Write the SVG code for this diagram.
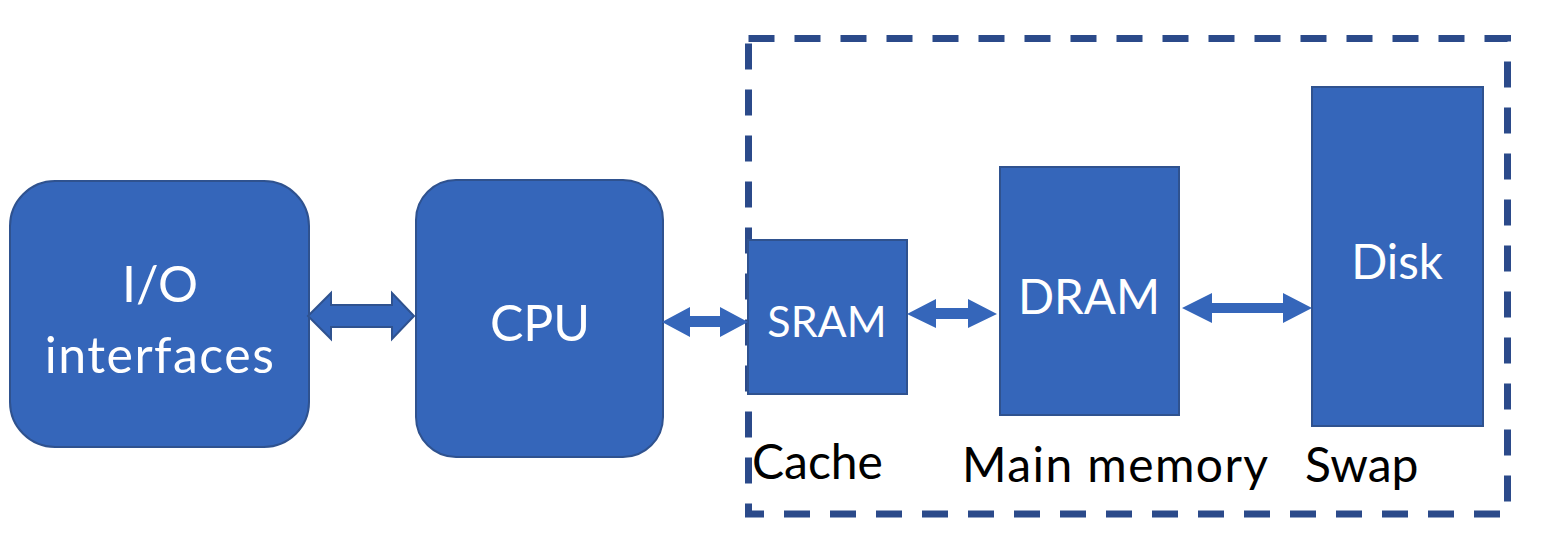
<svg xmlns="http://www.w3.org/2000/svg" width="1550" height="542" viewBox="0 0 1550 542">
<style>
.box{fill:#3566BA;stroke:#2F528F;stroke-width:2}
.arr{fill:#3566BA}
.arr2{fill:#3566BA;stroke:#2F528F;stroke-width:2}
.wt{font-family:Lato,"Open Sans",sans-serif;fill:#ffffff;text-anchor:middle}
.bt{font-family:Lato,"Open Sans",sans-serif;fill:#000000;font-size:48px}
</style>
<rect x="748.5" y="38.5" width="759" height="475.5" fill="none" stroke="#2B4A8A" stroke-width="7" stroke-dasharray="26 20"/>
<g id="io"><rect class="box" x="10" y="181" width="299" height="266" rx="45"/><text class="wt" x="160" y="302" font-size="50">I/O</text><text class="wt" x="160" y="373" font-size="50" letter-spacing="1.5">interfaces</text></g>
<g id="cpu"><rect class="box" x="416" y="180" width="247" height="277" rx="40"/><text class="wt" x="540" y="341" font-size="50">CPU</text></g>
<g id="sram"><rect class="box" x="748" y="240" width="159" height="154"/><text class="wt" x="827" y="337" font-size="43">SRAM</text></g>
<g id="dram"><rect class="box" x="1000" y="167" width="179" height="248"/><text class="wt" x="1089" y="314" font-size="47.5">DRAM</text></g>
<g id="disk"><rect class="box" x="1312" y="87" width="171" height="339"/><text class="wt" x="1397" y="279" font-size="47.5">Disk</text></g>
<g id="labels">
<text class="bt" x="752" y="479">Cache</text>
<text class="bt" x="962" y="482" letter-spacing="1.4">Main memory</text>
<text class="bt" x="1305" y="482">Swap</text>
</g>
<g id="connectors">
<polygon class="arr2" points="308,316 331,293 331,305 392,305 392,293 414,316 392,339 392,327 331,327 331,339"/>
<polygon class="arr" points="662,322 690,307 690,316 720,316 720,307 748,322 720,337 720,327 690,327 690,337"/>
<polygon class="arr" points="907,314 936,299 936,308 968,308 968,299 997,314 968,328 968,319 936,319 936,328"/>
<polygon class="arr" points="1182,308 1212,293 1212,303 1283,303 1283,293 1312,308 1283,323 1283,313 1212,313 1212,323"/>
</g>
</svg>
